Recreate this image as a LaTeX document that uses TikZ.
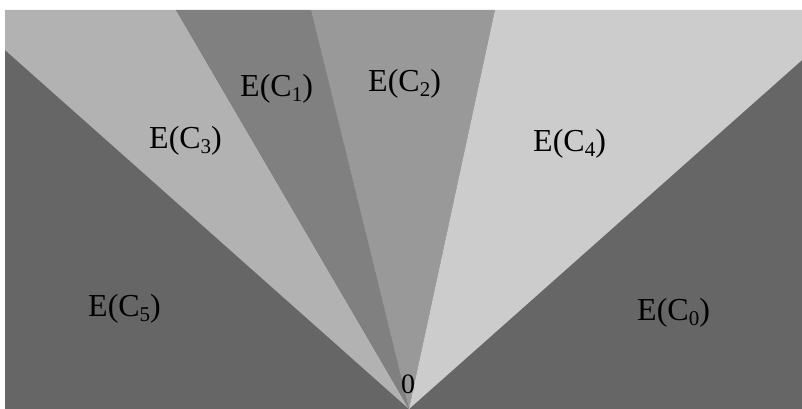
\documentclass[tikz,border=0pt]{standalone}
\usepackage{fontspec}
\setmainfont{Liberation Serif}
\usepackage{xcolor}
\usepackage{tikz}

\newcommand{\EC}[1]{E(C\raisebox{-5pt}{\fontsize{21}{21}\selectfont #1})}

\begin{document}
\begin{tikzpicture}[x=1pt,y=1pt,lab/.style={inner sep=0pt,anchor=base west,font=\fontsize{32}{32}\selectfont}]
\useasboundingbox (0,0) rectangle (802,409);
\coordinate (O) at (409,0);

\fill[black!60] (5,0) rectangle (802,399);
\fill[black!30] (O)--(5,359)--(5,399)--(176,399)--cycle;
\fill[black!50] (O)--(176,399)--(311,399)--cycle;
\fill[black!40] (O)--(311,399)--(495,399)--cycle;
\fill[black!20] (O)--(495,399)--(802,399)--(802,349)--cycle;

\node[lab] (c5) at (88,92)   {\EC{5}};
\node[lab] (c3) at (149,260) {\EC{3}};
\node[lab] (c1) at (240,312) {\EC{1}};
\node[lab] (c2) at (368,317) {\EC{2}};
\node[lab] (c4) at (533,257) {\EC{4}};
\node[lab] (c0) at (637,88)  {\EC{0}};
\node[lab,font=\fontsize{28}{28}\selectfont] (zero) at (401,15) {0};

\end{tikzpicture}
\end{document}
